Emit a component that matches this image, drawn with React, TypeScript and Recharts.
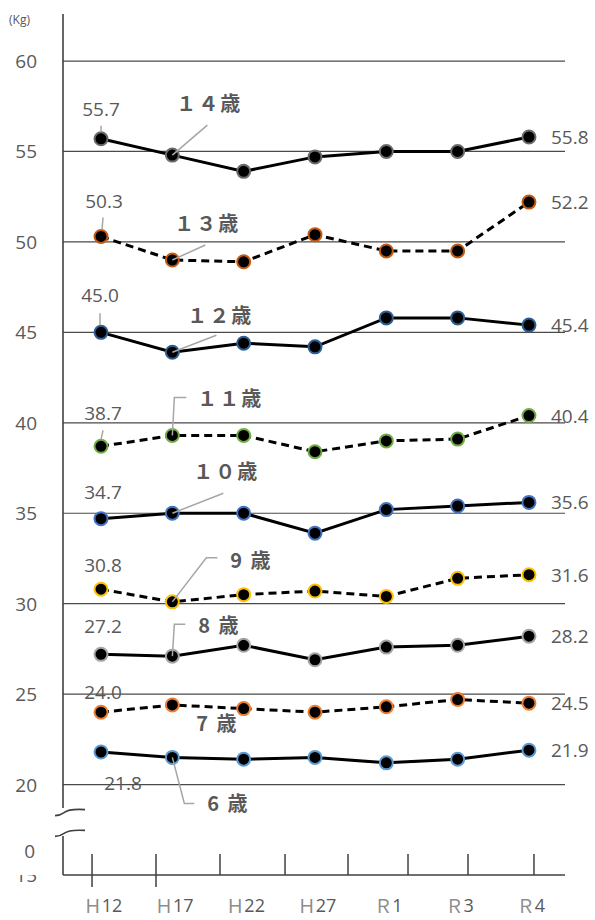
import React from "react";
import { LineChart, Line, XAxis, YAxis, ReferenceLine, ReferenceDot, LabelList } from "recharts";

// 年度
const periods = ["Ｈ12", "Ｈ17", "Ｈ22", "Ｈ27", "Ｒ1", "Ｒ3", "Ｒ4"];

// 年齢別 平均体重 (kg)
const w14 = [55.7, 54.8, 53.9, 54.7, 55.0, 55.0, 55.8];
const w13 = [50.3, 49.0, 48.9, 50.4, 49.5, 49.5, 52.2];
const w12 = [45.0, 43.9, 44.4, 44.2, 45.8, 45.8, 45.4];
const w11 = [38.7, 39.3, 39.3, 38.4, 39.0, 39.1, 40.4];
const w10 = [34.7, 35.0, 35.0, 33.9, 35.2, 35.4, 35.6];
const w9 = [30.8, 30.1, 30.5, 30.7, 30.4, 31.4, 31.6];
const w8 = [27.2, 27.1, 27.7, 26.9, 27.6, 27.7, 28.2];
const w7 = [24.0, 24.4, 24.2, 24.0, 24.3, 24.7, 24.5];
const w6 = [21.8, 21.5, 21.4, 21.5, 21.2, 21.4, 21.9];

const ageNames = ["１４歳", "１３歳", "１２歳", "１１歳", "１０歳", "9 歳", "8 歳", "7 歳", "6 歳"];
const seriesKeys = ["w14", "w13", "w12", "w11", "w10", "w9", "w8", "w7", "w6"];
const seriesValues = [w14, w13, w12, w11, w10, w9, w8, w7, w6];

// 軸
const yTicks = [15, 16.3, 20, 25, 30, 35, 40, 45, 50, 55, 60];
const gridValues = [20, 25, 30, 35, 40, 45, 50, 55, 60];
const tickMarks = [-0.126, 0.771, 1.668, 2.58, 3.463, 4.304, 5.145, 6.07];

const X_MIN = -0.533;
const X_MAX = 6.505;
const Y_MIN = 15;
const Y_MAX = 62.6;

const data = periods.map((p, i) => {
  const row: Record<string, number | string> = { i, period: p };
  seriesKeys.forEach((k, s) => {
    row[k] = seriesValues[s][i];
  });
  return row;
});

type Pt = [number, number];
interface SeriesStyle {
  color: string;
  dash: boolean;
  first: Pt;
  firstLead?: Pt[];
  age: Pt;
  ageLead?: Pt[];
}

// 見た目（ラベル位置など）
const styles: SeriesStyle[] = [
  { color: "#6b6b6b", dash: false, first: [0, -30], firstLead: [[0, -13], [0, -7]], age: [37, -53], ageLead: [[0, 0], [35, -30]] },
  { color: "#c55a11", dash: true, first: [3, -35], firstLead: [[2, -19], [1, -7]], age: [35, -38], ageLead: [[0, 0], [33, -15]] },
  { color: "#2e5f94", dash: false, first: [-1, -37], firstLead: [[-1, -19], [-1, -7]], age: [48, -38], ageLead: [[0, 0], [44, -17]] },
  { color: "#70ad47", dash: true, first: [2, -33], firstLead: [[2, -16], [0, -7]], age: [58, -38], ageLead: [[0, 0], [2, -38], [14, -38]] },
  { color: "#4472c4", dash: false, first: [2, -27], age: [54, -43], ageLead: [[0, 0], [51, -20]] },
  { color: "#ffc000", dash: true, first: [2, -24], age: [79, -42], ageLead: [[0, 0], [34, -44], [45, -44]] },
  { color: "#a5a5a5", dash: false, first: [2, -28], age: [47, -32], ageLead: [[0, 0], [2, -32], [13, -32]] },
  { color: "#ed7d31", dash: true, first: [2, -20], age: [45, 18] },
  { color: "#5b9bd5", dash: false, first: [22, 31], age: [56, 45], ageLead: [[0, 0], [12, 46], [22, 46]] },
];

const NUM_FONT = "'Open Sans', 'Liberation Sans', sans-serif";
const JP_FONT = "'Noto Sans CJK JP', sans-serif";
const TEXT = "#595959";
const LEAD = "#a6a6a6";

const path = (x: number, y: number, pts: Pt[]) =>
  pts.map((p, k) => `${k === 0 ? "M" : "L"}${x + p[0]},${y + p[1]}`).join(" ");

const makeLabel = (s: number) => (props: any) => {
  const { x, y, value, index } = props;
  const st = styles[s];
  if (index === 0) {
    return (
      <g>
        {st.firstLead && <path d={path(x, y, st.firstLead)} stroke={LEAD} strokeWidth={1.5} fill="none" />}
        <text x={x + st.first[0]} y={y + st.first[1]} textAnchor="middle" dominantBaseline="central"
          fontFamily={NUM_FONT} fontSize={19} fill={TEXT}>
          {Number(value).toFixed(1)}
        </text>
      </g>
    );
  }
  if (index === 1) {
    return (
      <g>
        {st.ageLead && <path d={path(x, y, st.ageLead)} stroke={LEAD} strokeWidth={1.5} fill="none" />}
        <text x={x + st.age[0]} y={y + st.age[1]} textAnchor="middle" dominantBaseline="central"
          fontFamily={JP_FONT} fontWeight="bold" fontSize={20} letterSpacing={2} fill={TEXT}>
          {ageNames[s]}
        </text>
      </g>
    );
  }
  if (index === periods.length - 1) {
    return (
      <text x={x + 22} y={y} textAnchor="start" dominantBaseline="central"
        fontFamily={NUM_FONT} fontSize={19} fill={TEXT}>
        {Number(value).toFixed(1)}
      </text>
    );
  }
  return null;
};

const makeDot = (color: string) => (props: any) => {
  const { cx, cy, index } = props;
  return <circle key={index} cx={cx} cy={cy} r={6.5} fill="#000" stroke={color} strokeWidth={2} />;
};

const XTick = (props: any) => {
  const { x, y, payload } = props;
  const v = payload.value;
  if (Number.isInteger(v) && v >= 0 && v < periods.length) {
    const label = periods[v];
    return (
      <text x={x + 2} y={y + 30} textAnchor="middle" dominantBaseline="central" fontSize={18}>
        <tspan fontFamily={JP_FONT} fill="#8c8c8c">{label.slice(0, 1)}</tspan>
        <tspan fontFamily={NUM_FONT} fill={TEXT}>{label.slice(1)}</tspan>
      </text>
    );
  }
  const idx = tickMarks.indexOf(v);
  return <line x1={x} x2={x} y1={y - 21} y2={idx < 2 ? y + 12 : y} stroke="#404040" strokeWidth={1.5} />;
};

const YTick = (props: any) => {
  const { x, y, payload } = props;
  const v = payload.value;
  const label = v === 16.3 ? "0" : String(v);
  if (v === 15) {
    return (
      <g>
        <defs>
          <clipPath id="clip-y15">
            <rect x={x - 70} y={y} width={70} height={20} />
          </clipPath>
        </defs>
        <text x={x - 26} y={y} textAnchor="end" dominantBaseline="central" fontFamily={NUM_FONT}
          fontSize={19} fill={TEXT} clipPath="url(#clip-y15)">
          {label}
        </text>
      </g>
    );
  }
  return (
    <text x={x - (v === 16.3 ? 28 : 26)} y={y} textAnchor="end" dominantBaseline="central"
      fontFamily={NUM_FONT} fontSize={19} fill={TEXT}>
      {label}
    </text>
  );
};

const BreakMark = (props: any) => {
  const { cx, cy } = props;
  return (
    <path d={`M${cx - 8},${cy + 3} Q${cx - 3},${cy + 3} ${cx + 1},${cy} Q${cx + 6},${cy - 4} ${cx + 22},${cy - 3}`}
      stroke="#404040" strokeWidth={1.6} fill="none" />
  );
};

const App: React.FC = () => {
  return (
    <div style={{ position: "fixed", left: 0, top: 0, width: 595, height: 920, background: "#fff" }}>
      <div style={{ position: "absolute", left: 9, top: 11, fontFamily: NUM_FONT, fontSize: 12, color: TEXT }}>
        (Kg)
      </div>
      <LineChart width={595} height={920} data={data} margin={{ top: 14, right: 30, bottom: 0, left: 0 }}>
        <XAxis
          dataKey="i"
          type="number"
          domain={[X_MIN, X_MAX]}
          allowDataOverflow
          ticks={[...tickMarks, 0, 1, 2, 3, 4, 5, 6]}
          interval={0}
          tick={<XTick />}
          tickSize={0}
          tickMargin={0}
          tickLine={false}
          axisLine={{ stroke: "#404040", strokeWidth: 1.5 }}
          height={45}
        />
        <YAxis
          type="number"
          domain={[Y_MIN, Y_MAX]}
          allowDataOverflow
          ticks={yTicks}
          interval={0}
          tick={<YTick />}
          tickSize={0}
          tickMargin={0}
          tickLine={false}
          axisLine={false}
          width={63}
        />
        {gridValues.map((v) => (
          <ReferenceLine key={v} y={v} stroke="#4a4a4a" strokeWidth={1.2} />
        ))}
        <ReferenceLine
          segment={[{ x: X_MIN, y: Y_MAX }, { x: X_MIN, y: 18.7 }]}
          stroke="#404040"
          strokeWidth={1.6}
          ifOverflow="visible"
        />
        <ReferenceLine
          segment={[{ x: X_MIN, y: 17.15 }, { x: X_MIN, y: Y_MIN }]}
          stroke="#404040"
          strokeWidth={1.6}
          ifOverflow="visible"
        />
        <ReferenceDot x={X_MIN} y={18.45} shape={<BreakMark />} ifOverflow="visible" />
        <ReferenceDot x={X_MIN} y={17.3} shape={<BreakMark />} ifOverflow="visible" />
        {seriesKeys.map((k, s) => (
          <Line
            key={k}
            dataKey={k}
            type="linear"
            stroke="#000"
            strokeWidth={3}
            strokeDasharray={styles[s].dash ? "8 5" : undefined}
            dot={makeDot(styles[s].color)}
            activeDot={false}
            isAnimationActive={false}
          >
            <LabelList dataKey={k} content={makeLabel(s)} />
          </Line>
        ))}
      </LineChart>
    </div>
  );
};

export default App;
